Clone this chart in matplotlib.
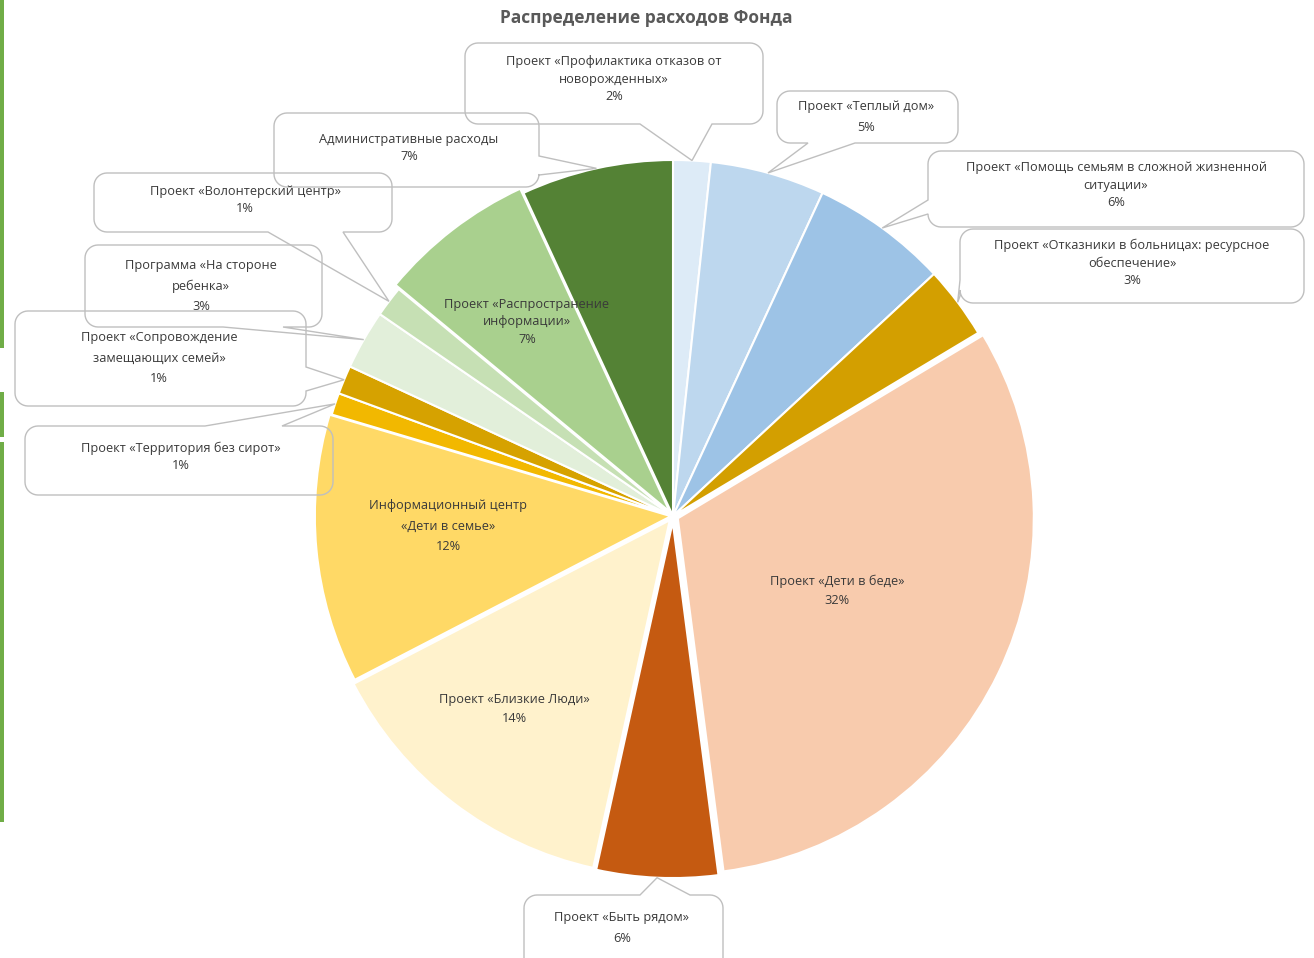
import numpy as np
import matplotlib
matplotlib.use('Agg')
import matplotlib.pyplot as plt
from matplotlib.patches import Polygon, Rectangle

plt.rcParams['font.family'] = ['Open Sans', 'DejaVu Sans']

W, H = 1314, 958
CX, CY, R = 673, 516, 356      # pie centre and radius, pixels
LIM = 1.08
FS = 9.2
TXT = '#3A3A3A'
EDGE = '#BFBFBF'

# --- data -----------------------------------------------------------------
names = [
    "Проект «Профилактика отказов от\nноворожденных»",
    "Проект «Теплый дом»",
    "Проект «Помощь семьям в сложной жизненной\nситуации»",
    "Проект «Отказники в больницах: ресурсное\nобеспечение»",
    "Проект «Дети в беде»",
    "Проект «Быть рядом»",
    "Проект «Близкие Люди»",
    "Информационный центр\n«Дети в семье»",
    "Проект «Территория без сирот»",
    "Проект «Сопровождение\nзамещающих семей»",
    "Программа «На стороне\nребенка»",
    "Проект «Волонтерский центр»",
    "Проект «Распространение\nинформации»",
    "Административные расходы",
]
shares = [1.7, 5.2, 6.2, 3.3, 31.55, 5.5, 13.95, 12.2, 1.0, 1.3, 2.7, 1.4, 7.1, 6.9]
colors = ['#DDEBF7', '#BDD7EE', '#9DC3E6', '#D39F00', '#F8CBAD', '#C55A11',
          '#FFF2CC', '#FFD966', '#F2B800', '#D6A200', '#E2EFDA', '#C6E0B4',
          '#A9D08E', '#548235']
explode = [0, 0, 0, 0, 0.015, 0.017, 0.015, 0.006, 0, 0, 0, 0, 0.015, 0]

# labels drawn inside the slice: index -> (x, y, linespacing)
inside = {
    4: (837, 591, 1.6),
    6: (514, 709, 1.6),
    7: (448, 526, 1.75),
    12: (527, 322, 1.45),
}
# callouts: index -> (box x0, y0, x1, y1), side with pointer, pointer base, text (x, y), linespacing
callouts = {
    0: ((465, 43, 763, 124), 'bottom', (640, 712), (614, 79), 1.45),
    1: ((777, 91, 958, 143), 'bottom', (808, 855), (866, 117), 1.75),
    2: ((928, 151, 1304, 227), 'left', (200, 214), (1116, 185), 1.45),
    3: ((960, 229, 1304, 303), 'left', (280, 296), (1132, 263), 1.45),
    5: ((524, 895, 723, 975), 'top', (640, 690), (622, 928), 1.7),
    8: ((25, 426, 333, 495), 'top', (205, 282), (181, 457), 1.45),
    9: ((15, 311, 306, 406), 'right', (367, 391), (159, 358), 1.7),
    10: ((85, 245, 322, 327), 'bottom', (223, 283), (201, 286), 1.7),
    11: ((94, 173, 392, 232), 'bottom', (268, 343), (245, 200), 1.4),
    13: ((274, 113, 539, 187), 'right', (156, 175), (409, 148), 1.45),
}


def callout_outline(box, side, base, tip, r=13, n=10):
    """Rounded box outline with a wedge pointer on one side (pixel coords, y down)."""
    x0, y0, x1, y1 = box
    t = np.linspace(0, np.pi / 2, n)
    pts = list(zip(x0 + r - r * np.cos(t), y0 + r - r * np.sin(t)))
    if side == 'top':
        pts += [(base[0], y0), tip, (base[1], y0)]
    pts += list(zip(x1 - r + r * np.sin(t), y0 + r - r * np.cos(t)))
    if side == 'right':
        pts += [(x1, base[0]), tip, (x1, base[1])]
    pts += list(zip(x1 - r + r * np.cos(t), y1 - r + r * np.sin(t)))
    if side == 'bottom':
        pts += [(base[1], y1), tip, (base[0], y1)]
    pts += list(zip(x0 + r - r * np.sin(t), y1 - r + r * np.cos(t)))
    if side == 'left':
        pts += [(x0, base[1]), tip, (x0, base[0])]
    return pts


fig = plt.figure(figsize=(W / 100, H / 100), dpi=100)
fig.patch.set_facecolor('white')

side = 2 * LIM * R
ax = fig.add_axes([(CX - LIM * R) / W, (H - CY - LIM * R) / H, side / W, side / H])
wedges, _ = ax.pie(shares, colors=colors, startangle=90, counterclock=False,
                   explode=explode, wedgeprops=dict(edgecolor='white', linewidth=1.5))
ax.set_xlim(-LIM, LIM)
ax.set_ylim(-LIM, LIM)
ax.set_aspect('equal')
ax.apply_aspect()

over = fig.add_axes([0, 0, 1, 1])
over.set_xlim(0, W)
over.set_ylim(H, 0)
over.axis('off')
over.patch.set_visible(False)


def tip_of(i):
    w = wedges[i]
    th = np.deg2rad((w.theta1 + w.theta2) / 2)
    p = (w.center[0] + w.r * np.cos(th), w.center[1] + w.r * np.sin(th))
    dx, dy = ax.transData.transform(p)
    return (dx, H - dy)


for i, v in enumerate(shares):
    label = "{}\n{:.0f}%".format(names[i], v)
    if i in inside:
        x, y, ls = inside[i]
        over.text(x, y, label, ha='center', va='center', fontsize=FS,
                  color=TXT, linespacing=ls)
    elif i in callouts:
        box, s, base, (x, y), ls = callouts[i]
        pts = callout_outline(box, s, base, tip_of(i))
        over.add_patch(Polygon(pts, closed=True, fill=False, edgecolor=EDGE, lw=1.0))
        over.text(x, y, label, ha='center', va='center', fontsize=FS,
                  color=TXT, linespacing=ls)

over.text(646, 18, "Распределение расходов Фонда", ha='center', va='center',
          fontsize=12.5, fontweight='bold', color='#595959')

# green cell borders peeking in at the left edge of the screenshot
for y0, hgt in [(0, 348), (392, 45), (442, 380)]:
    over.add_patch(Rectangle((0, y0), 4, hgt, color='#70AD47', lw=0))

fig.savefig('out.png', dpi=100)
